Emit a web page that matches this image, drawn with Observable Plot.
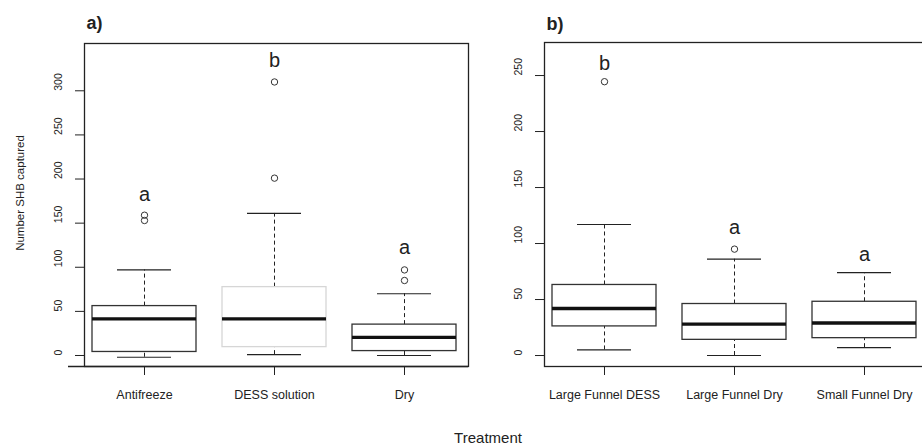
<!DOCTYPE html>
<html>
<head>
<meta charset="utf-8">
<script src="https://cdn.jsdelivr.net/npm/d3@7"></script>
<script src="https://cdn.jsdelivr.net/npm/@observablehq/plot@0.6"></script>
<style>
  body { margin: 0; background: white; }
  #wrap { position: relative; width: 922px; height: 444px; overflow: hidden; background: white;
          font-family: "Liberation Sans", Arial, Helvetica, sans-serif; color: #222; }
  #wrap svg { position: absolute; top: 0; max-width: none; }
  .lbl { position: absolute; white-space: nowrap; transform: translate(-50%, -50%); }
</style>
</head>
<body>
<div id="wrap">
  <div class="lbl" style="left:20px; top:192.5px; font-size:11.5px; transform: translate(-50%,-50%) rotate(-90deg);">Number SHB captured</div>
  <div class="lbl" style="left:488px; top:437px; font-size:15px;">Treatment</div>
</div>
<script>
const FONT = '"Liberation Sans", Arial, Helvetica, sans-serif';

// Panel a)
const catsA = ["Antifreeze", "DESS solution", "Dry"];
const loA  = [-2, 1, 0];
const q1A  = [4, 9.5, 5];
const medA = [41.5, 41.5, 20.5];
const q3A  = [56, 77.5, 35];
const hiA  = [97, 161, 70];
const outCatA = ["Antifreeze", "Antifreeze", "DESS solution", "DESS solution", "Dry", "Dry"];
const outValA = [153, 159, 201, 310, 85, 97];
const letCatA = ["Antifreeze", "DESS solution", "Dry"];
const letValA = [175.5, 327, 115];
const letTxtA = ["a", "b", "a"];
const ticksA = [0, 50, 100, 150, 200, 250, 300];

// Panel b)
const catsB = ["Large Funnel DESS", "Large Funnel Dry", "Small Funnel Dry"];
const loB  = [5, 0, 7];
const q1B  = [26, 14, 15.5];
const medB = [42, 28, 29];
const q3B  = [63, 46, 48];
const hiB  = [117, 86, 74];
const outCatB = ["Large Funnel DESS", "Large Funnel Dry"];
const outValB = [244.5, 95];
const letCatB = ["Large Funnel DESS", "Large Funnel Dry", "Small Funnel Dry"];
const letValB = [254.5, 108.7, 84.8];
const letTxtB = ["b", "a", "a"];
const ticksB = [0, 50, 100, 150, 200, 250];

function rows(cats, lo, q1, med, q3, hi) {
  return cats.map((c, i) => ({cat: c, lo: lo[i], q1: q1[i], med: med[i], q3: q3[i], hi: hi[i]}));
}
function pts(cats, vals, txt) {
  return cats.map((c, i) => ({cat: c, v: vals[i], t: txt ? txt[i] : null}));
}

function panel({cats, data, outs, lets, ticks, yDomain, width, marginLeft, marginRight, marginTop, title, extendBottom}) {
  const ink = "#222";
  return Plot.plot({
    width, height: 444, marginLeft, marginRight, marginTop, marginBottom: 78,
    style: {fontFamily: FONT, fontSize: "12.5px", color: ink, background: "transparent", overflow: "hidden"},
    x: {type: "band", domain: cats, paddingInner: 0.2, paddingOuter: 0.0769, align: 0.4, label: null},
    y: {domain: yDomain, label: null},
    marks: [
      Plot.frame({stroke: ink, strokeWidth: 1.3}),
      extendBottom ? Plot.ruleY([yDomain[0]], {insetLeft: -16, stroke: ink, strokeWidth: 1.3}) : null,
      Plot.axisX({tickSize: 9, tickPadding: 14.6, label: null, stroke: ink}),
      Plot.axisY({ticks, tickSize: 9, tickFormat: () => "", label: null, stroke: ink}),
      Plot.text(ticks, {y: d => d, text: d => String(d), frameAnchor: "left", dx: -26, rotate: -90, fontSize: 10.5, fill: ink}),
      Plot.ruleX(data, {x: "cat", y1: "lo", y2: "q1", stroke: ink, strokeDasharray: "4,3"}),
      Plot.ruleX(data, {x: "cat", y1: "q3", y2: "hi", stroke: ink, strokeDasharray: "4,3"}),
      Plot.tickY(data, {x: "cat", y: "lo", insetLeft: 25, insetRight: 25, stroke: ink, strokeWidth: 1.2}),
      Plot.tickY(data, {x: "cat", y: "hi", insetLeft: 25, insetRight: 25, stroke: ink, strokeWidth: 1.2}),
      Plot.barY(data, {x: "cat", y1: "q1", y2: "q3", fill: "none",
        stroke: d => d.cat === "DESS solution" ? "#d6d6d6" : "#333", strokeWidth: 1.3}),
      Plot.tickY(data, {x: "cat", y: "med", stroke: "#111", strokeWidth: 3.4}),
      Plot.dot(outs, {x: "cat", y: "v", r: 3.2, stroke: "#333", fill: "none", strokeWidth: 1}),
      Plot.text(lets, {x: "cat", y: "v", text: "t", fontSize: 20, lineAnchor: "bottom", fill: ink}),
      Plot.text([title], {text: d => d, frameAnchor: "top-left", dx: 2, dy: marginTop === 43 ? -15 : -13,
        textAnchor: "start", lineAnchor: "bottom", fontWeight: "bold", fontSize: 18, fill: ink})
    ]
  });
}

const wrap = document.getElementById("wrap");

const pa = panel({
  cats: catsA, data: rows(catsA, loA, q1A, medA, q3A, hiA),
  outs: pts(outCatA, outValA), lets: pts(letCatA, letValA, letTxtA),
  ticks: ticksA, yDomain: [-12.47, 353.6],
  width: 480, marginLeft: 84, marginRight: 12, marginTop: 43, title: "a)", extendBottom: true
});
pa.style.left = "0px";
wrap.appendChild(pa);

const pb = panel({
  cats: catsB, data: rows(catsB, loB, q1B, medB, q3B, hiB),
  outs: pts(outCatB, outValB), lets: pts(letCatB, letValB, letTxtB),
  ticks: ticksB, yDomain: [-9.8, 279.5],
  width: 448, marginLeft: 64, marginRight: 0, marginTop: 42, title: "b)", extendBottom: false
});
pb.style.left = "480px";
wrap.appendChild(pb);
</script>
</body>
</html>
